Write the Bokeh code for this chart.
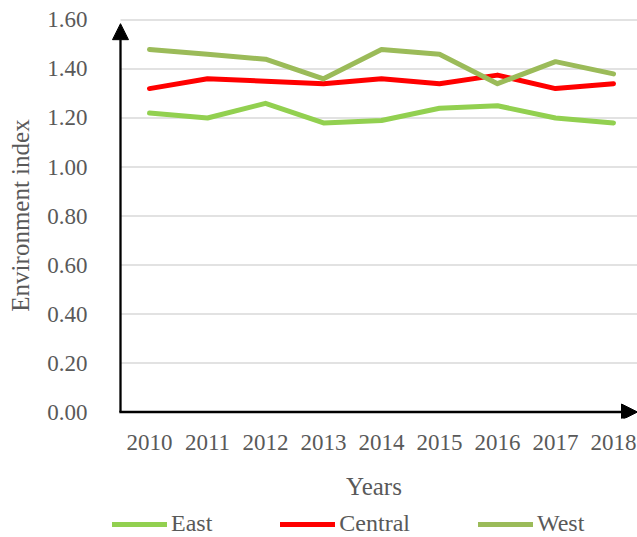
from bokeh.plotting import figure
from bokeh.layouts import column
from bokeh.models import (Arrow, NormalHead, Legend, LegendItem, FixedTicker,
                          Range1d, ColumnDataSource)
from bokeh.embed import file_html
from bokeh.resources import INLINE

years = ["2010", "2011", "2012", "2013", "2014", "2015", "2016", "2017", "2018"]
east = [1.22, 1.20, 1.26, 1.18, 1.19, 1.24, 1.25, 1.20, 1.18]
central = [1.32, 1.36, 1.35, 1.34, 1.36, 1.34, 1.375, 1.32, 1.34]
west = [1.48, 1.46, 1.44, 1.36, 1.48, 1.46, 1.34, 1.43, 1.38]
y_ticks = [0.0, 0.2, 0.4, 0.6, 0.8, 1.0, 1.2, 1.4, 1.6]
series_names = ["East", "Central", "West"]
series_colors = ["#92D050", "#FF0000", "#9BBB59"]

FONT = "Liberation Serif"
GREY = "#595959"
LW = 5

xs = list(range(len(years)))
src = ColumnDataSource(dict(x=xs, East=east, Central=central, West=west))

X0, X1 = -0.6724, 8.4138
Y0, Y1 = -0.0265, 1.6306
AX = -0.5  # category-axis start (y axis position)

p = figure(width=637, height=505, output_backend="svg", toolbar_location=None,
           x_range=Range1d(X0, X1), y_range=Range1d(Y0, Y1),
           min_border_left=110, min_border_top=12, min_border_bottom=87,
           min_border_right=0)
p.outline_line_color = None
p.background_fill_color = "white"
p.border_fill_color = "white"
p.xgrid.grid_line_color = None
p.ygrid.grid_line_color = None

# horizontal gridlines starting at the value axis
grid_y = y_ticks[1:]
p.segment(x0=[AX] * len(grid_y), y0=grid_y, x1=[X1] * len(grid_y), y1=grid_y,
          line_color="#D9D9D9", line_width=1.3)

# axes (labels only; lines drawn as arrows)
p.yaxis.ticker = FixedTicker(ticks=y_ticks)
p.yaxis.major_label_overrides = {t: f"{t:.2f}" for t in y_ticks}
p.xaxis.ticker = FixedTicker(ticks=xs)
p.xaxis.major_label_overrides = {i: y for i, y in enumerate(years)}
for ax in (p.xaxis[0], p.yaxis[0]):
    ax.axis_line_color = None
    ax.major_tick_line_color = None
    ax.minor_tick_line_color = None
    ax.major_label_text_font = FONT
    ax.major_label_text_font_size = "23px"
    ax.major_label_text_color = GREY
    ax.axis_label_text_font = FONT
    ax.axis_label_text_font_size = "25px"
    ax.axis_label_text_font_style = "normal"
    ax.axis_label_text_color = GREY
p.yaxis.axis_label = "Environment index"
p.yaxis.major_label_standoff = 17
p.yaxis.axis_label_standoff = 10
p.xaxis.axis_label = "Years"
p.xaxis.major_label_standoff = 10
p.xaxis.axis_label_standoff = 20

# data lines
for name, col in zip(series_names, series_colors):
    p.line("x", name, source=src, line_color=col, line_width=LW,
           line_cap="round", line_join="round")

# axis arrows
p.add_layout(Arrow(x_start=AX - 0.02, y_start=0, x_end=X1, y_end=0,
                   line_color="black", line_width=2.3,
                   end=NormalHead(size=16, fill_color="black", line_color="black",
                                  line_width=1)))
p.add_layout(Arrow(x_start=AX, y_start=0, x_end=AX, y_end=1.585,
                   line_color="black", line_width=2.3,
                   end=NormalHead(size=16, fill_color="black", line_color="black",
                                  line_width=1)))

# legend strip (its lines use the same data, placed outside the strip's view)
lf = figure(width=637, height=32, output_backend="svg", toolbar_location=None,
            x_axis_type=None, y_axis_type=None, min_border=0,
            x_range=Range1d(100, 101), y_range=Range1d(100, 101))
lf.outline_line_color = None
lf.background_fill_color = "white"
lf.border_fill_color = "white"
items = []
for name, col in zip(series_names, series_colors):
    r = lf.line("x", name, source=src, line_color=col, line_width=LW,
                line_cap="round")
    items.append(LegendItem(label=name, renderers=[r]))
legend = Legend(items=items, orientation="horizontal", location=(2, 0),
                glyph_width=55, glyph_height=20, label_standoff=4, spacing=68,
                padding=0, margin=0, border_line_color=None,
                background_fill_alpha=0,
                label_text_font=FONT, label_text_font_size="24px",
                label_text_color=GREY)
lf.add_layout(legend)

layout = column(p, lf, spacing=0)
open("out.html", "w").write(file_html(layout, INLINE))
